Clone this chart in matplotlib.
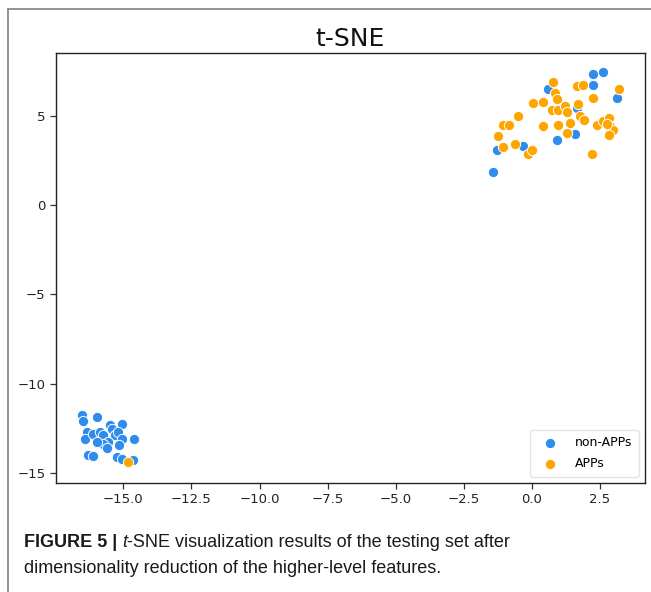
import matplotlib
matplotlib.use("Agg")
import matplotlib.pyplot as plt
from matplotlib.lines import Line2D
import numpy as np

# ---- data ----
non_apps_x = [2.23, 2.62, 2.23, 0.60, 3.11, 1.64, 0.91, 1.58, -0.32, -1.27, -1.42,
              -16.53, -16.47, -15.95, -16.34, -16.41, -16.10, -15.86, -15.76, -15.49,
              -15.43, -15.06, -15.30, -15.18, -15.06, -15.55, -15.73, -15.98, -15.61,
              -15.15, -14.61, -16.28, -16.10, -15.22, -15.06, -14.63]
non_apps_y = [7.37, 7.45, 6.70, 6.48, 6.02, 5.46, 3.63, 3.97, 3.31, 3.09, 1.86,
              -11.73, -12.09, -11.86, -12.70, -13.07, -12.79, -12.70, -12.89, -12.33,
              -12.51, -12.23, -12.89, -12.70, -13.07, -13.26, -13.35, -13.26, -13.59,
              -13.41, -13.11, -14.01, -14.06, -14.10, -14.19, -14.25]

apps_x = [0.79, 1.64, 1.89, 3.21, 0.85, 0.91, 2.23, 0.05, 0.40, 0.73, 0.97, 1.22,
          1.28, 1.70, 1.77, 1.91, 1.40, -0.50, -1.05, -0.83, 0.42, 0.97, 1.28, -1.23,
          -1.07, -0.62, -0.13, -0.01, 2.20, 2.38, 2.62, 2.84, 2.87, 2.99, 2.84, 2.75,
          -14.82]
apps_y = [6.89, 6.67, 6.70, 6.48, 6.30, 5.96, 6.02, 5.74, 5.77, 5.32, 5.32, 5.55,
          5.21, 5.68, 4.99, 4.77, 4.62, 4.99, 4.47, 4.47, 4.43, 4.47, 4.06, 3.87,
          3.28, 3.41, 2.85, 3.09, 2.85, 4.47, 4.71, 4.90, 4.43, 4.19, 3.91, 4.53,
          -14.41]

labels = ["non-APPs", "APPs"]
x_ticks = [-15.0, -12.5, -10.0, -7.5, -5.0, -2.5, 0.0, 2.5]
y_ticks = [-15, -10, -5, 0, 5]
title = "t-SNE"
caption_bold = "FIGURE 5 |"
caption_italic = "t"
caption_rest = "-SNE visualization results of the testing set after"
caption_line2 = "dimensionality reduction of the higher-level features."

BLUE = "#2f8bec"
ORANGE = "#ffa500"

W, H = 651, 592
fig = plt.figure(figsize=(W / 100, H / 100), dpi=100)
fig.patch.set_facecolor("white")

ax = fig.add_axes([56 / W, 1 - 483 / H, (645 - 56) / W, (483 - 53) / H])
ax.scatter(non_apps_x, non_apps_y, s=55, c=BLUE, edgecolors="white",
           linewidths=0.7, label=labels[0], zorder=2)
ax.scatter(apps_x, apps_y, s=55, c=ORANGE, edgecolors="white",
           linewidths=0.7, label=labels[1], zorder=2)
ax.set_xlim(-17.47, 4.15)
ax.set_ylim(-15.56, 8.52)
ax.set_xticks(x_ticks)
ax.set_xticklabels([f"{v:.1f}".replace("-", "\u2212") for v in x_ticks])
ax.set_yticks(y_ticks)
ax.set_yticklabels([f"{v}".replace("-", "\u2212") for v in y_ticks])
ax.tick_params(labelsize=9.5, length=4, width=0.9, color="#333333", labelcolor="#222222")
for sp in ax.spines.values():
    sp.set_linewidth(1.0)
    sp.set_color("#222222")
ax.set_title(title, fontsize=18, pad=5, color="#111111")
leg = ax.legend(loc="lower right", fontsize=9, frameon=True, markerscale=1.0,
                handletextpad=1.0, borderpad=0.55, labelspacing=0.6)
leg.get_frame().set_edgecolor("#dddddd")
for h in leg.legend_handles:
    h.set_edgecolor("white")

# outer frame lines
fig.add_artist(Line2D([8 / W, 8 / W], [0, 1 - 9 / H], transform=fig.transFigure,
                      color="#8a8a8a", lw=1.3))
fig.add_artist(Line2D([8 / W, 1], [1 - 9 / H, 1 - 9 / H], transform=fig.transFigure,
                      color="#8a8a8a", lw=1.3))

# caption
cap_font = ["Liberation Sans", "DejaVu Sans"]
cap_size = 13
cap_color = "#1a1a1a"
x0 = 24 / W
y1 = 1 - 547 / H
y2 = 1 - 573 / H
fig.canvas.draw()
renderer = fig.canvas.get_renderer()
t1 = fig.text(x0, y1, caption_bold + " ", fontsize=cap_size, fontweight="bold",
              family=cap_font, color=cap_color, va="baseline")
bb = t1.get_window_extent(renderer)
t2 = fig.text(bb.x1 / W, y1, caption_italic, fontsize=cap_size, fontstyle="italic",
              family=cap_font, color=cap_color, va="baseline")
bb2 = t2.get_window_extent(renderer)
fig.text(bb2.x1 / W, y1, caption_rest, fontsize=cap_size,
         family=cap_font, color=cap_color, va="baseline")
fig.text(x0, y2, caption_line2, fontsize=cap_size,
         family=cap_font, color=cap_color, va="baseline")

fig.savefig("out.png", dpi=100)
